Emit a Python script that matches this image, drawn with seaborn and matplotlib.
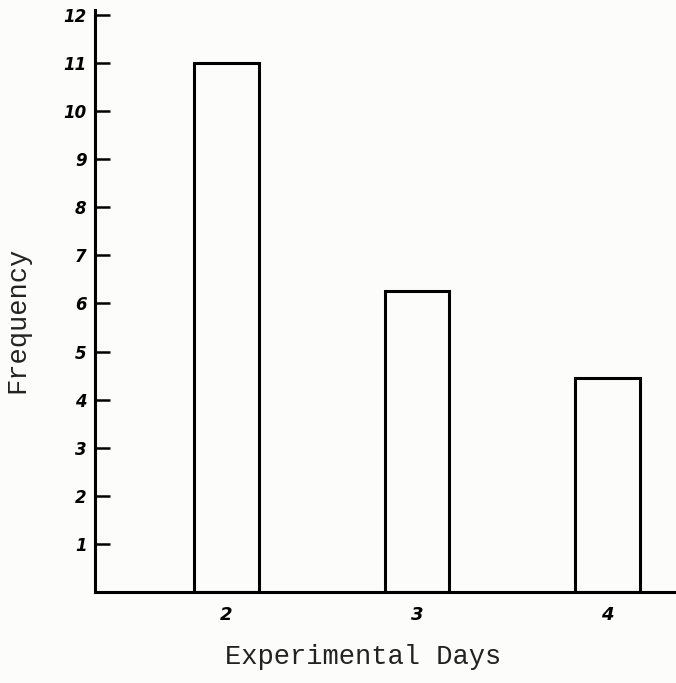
#!/usr/bin/env python
# coding: utf-8

import pandas as pd
import matplotlib.pyplot as plt
import seaborn as sns


sns.set_theme(style='white')

# data
days = ['2', '3', '4']
frequency = [11, 6.25, 4.45]
y_ticks = list(range(1, 13))

paper = '#fcfcfa'
df = pd.DataFrame({'day': days, 'freq': frequency})

fig = plt.figure(figsize=(6.76, 6.83), dpi=100, facecolor=paper)
ax = fig.add_axes([95 / 676, 91 / 683, 581 / 676, 0.852])
ax.set_facecolor(paper)

sns.barplot(data=df, x='day', y='freq', ax=ax, width=0.34,
            color=paper, edgecolor='black', linewidth=2.2, saturation=1)

ax.set_xlim(-0.69, 2.36)
ax.set_ylim(0, 12.1)

# only left and bottom axis lines, like the hand-drawn original
for side in ['top', 'right']:
    ax.spines[side].set_visible(False)
for side in ['left', 'bottom']:
    ax.spines[side].set_color('black')
    ax.spines[side].set_linewidth(2.2)

hand = dict(family='DejaVu Sans', weight='bold', style='italic', color='black')
ax.set_yticks(y_ticks)
ax.set_yticklabels([str(t) for t in y_ticks], fontsize=12, **hand)
ax.tick_params(axis='y', direction='in', length=11, width=1.8,
               color='black', pad=6, left=True)
ax.tick_params(axis='x', length=0, pad=10)
ax.set_xticklabels(days, fontsize=13, **hand)

ax.set_xlabel('Experimental Days', family='Liberation Mono', fontsize=19.5,
              color='#222222', va='center')
ax.set_ylabel('Frequency', family='Liberation Mono', fontsize=19.5,
              color='#222222', va='center')
ax.xaxis.set_label_coords(0.461, -0.112)
ax.yaxis.set_label_coords(-0.134, 0.467)

plt.savefig('out.png', dpi=100, facecolor=paper)
